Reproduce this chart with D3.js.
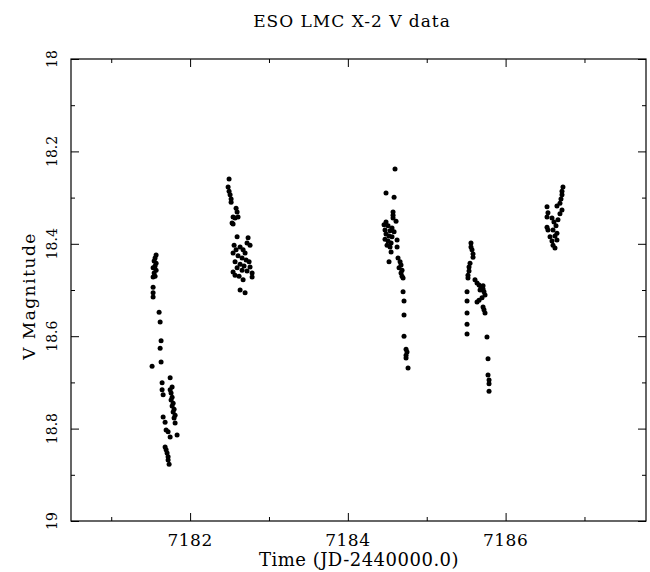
<!DOCTYPE html>
<html>
<head>
<meta charset="utf-8">
<script src="https://cdnjs.cloudflare.com/ajax/libs/d3/7.8.5/d3.min.js"></script>
<style>
body { margin: 0; background: #fff; }
text { font-family: "DejaVu Serif", serif; fill: #000; }
</style>
</head>
<body>
<svg width="650" height="572"></svg>
<script>
// [time (JD-2440000), V magnitude], one array per night
var night1 = [[7181.569,18.424],[7181.556,18.431],[7181.544,18.437],[7181.569,18.442],[7181.556,18.448],[7181.531,18.452],[7181.569,18.457],[7181.544,18.463],[7181.556,18.470],[7181.531,18.472],[7181.531,18.494],[7181.531,18.506],[7181.531,18.515],[7181.607,18.548],[7181.620,18.569],[7181.632,18.610],[7181.620,18.626],[7181.632,18.656],[7181.518,18.665],[7181.747,18.690],[7181.645,18.701],[7181.772,18.710],[7181.645,18.716],[7181.658,18.727],[7181.747,18.716],[7181.759,18.723],[7181.772,18.732],[7181.759,18.738],[7181.785,18.745],[7181.772,18.751],[7181.797,18.758],[7181.785,18.764],[7181.810,18.771],[7181.797,18.777],[7181.658,18.775],[7181.683,18.786],[7181.810,18.788],[7181.696,18.803],[7181.721,18.807],[7181.747,18.818],[7181.835,18.814],[7181.683,18.840],[7181.696,18.846],[7181.708,18.853],[7181.721,18.861],[7181.721,18.868],[7181.734,18.877]];
var night2 = [[7182.494,18.260],[7182.482,18.277],[7182.494,18.286],[7182.507,18.294],[7182.520,18.303],[7182.520,18.310],[7182.583,18.323],[7182.596,18.331],[7182.545,18.342],[7182.570,18.344],[7182.608,18.342],[7182.532,18.355],[7182.545,18.357],[7182.596,18.385],[7182.735,18.387],[7182.722,18.398],[7182.760,18.403],[7182.558,18.403],[7182.583,18.413],[7182.545,18.420],[7182.634,18.407],[7182.672,18.413],[7182.697,18.420],[7182.608,18.426],[7182.659,18.431],[7182.710,18.435],[7182.748,18.439],[7182.570,18.439],[7182.634,18.444],[7182.684,18.448],[7182.760,18.450],[7182.596,18.452],[7182.659,18.457],[7182.722,18.459],[7182.545,18.461],[7182.570,18.468],[7182.786,18.463],[7182.786,18.472],[7182.621,18.470],[7182.672,18.478],[7182.634,18.500],[7182.697,18.506]];
var night3 = [[7184.598,18.238],[7184.484,18.290],[7184.586,18.299],[7184.573,18.331],[7184.573,18.338],[7184.573,18.344],[7184.484,18.353],[7184.611,18.351],[7184.459,18.359],[7184.510,18.361],[7184.560,18.366],[7184.471,18.370],[7184.535,18.372],[7184.586,18.374],[7184.484,18.379],[7184.522,18.383],[7184.560,18.385],[7184.471,18.390],[7184.510,18.394],[7184.548,18.398],[7184.497,18.403],[7184.535,18.407],[7184.624,18.392],[7184.624,18.407],[7184.548,18.418],[7184.522,18.439],[7184.636,18.431],[7184.662,18.439],[7184.674,18.446],[7184.649,18.452],[7184.687,18.457],[7184.674,18.463],[7184.687,18.470],[7184.700,18.474],[7184.700,18.504],[7184.712,18.524],[7184.712,18.554],[7184.712,18.600],[7184.738,18.628],[7184.750,18.634],[7184.738,18.641],[7184.738,18.647],[7184.763,18.669]];
var night4 = [[7185.561,18.398],[7185.561,18.407],[7185.574,18.413],[7185.587,18.422],[7185.587,18.429],[7185.549,18.442],[7185.536,18.450],[7185.536,18.459],[7185.523,18.468],[7185.523,18.474],[7185.612,18.478],[7185.638,18.485],[7185.663,18.489],[7185.688,18.494],[7185.714,18.498],[7185.726,18.504],[7185.739,18.511],[7185.701,18.517],[7185.663,18.522],[7185.638,18.526],[7185.714,18.491],[7185.676,18.500],[7185.511,18.504],[7185.511,18.524],[7185.714,18.537],[7185.726,18.543],[7185.739,18.550],[7185.511,18.550],[7185.511,18.574],[7185.511,18.595],[7185.764,18.602],[7185.777,18.649],[7185.777,18.684],[7185.790,18.695],[7185.790,18.703],[7185.790,18.719]];
var night5 = [[7186.727,18.277],[7186.715,18.286],[7186.715,18.294],[7186.702,18.303],[7186.689,18.312],[7186.651,18.318],[7186.715,18.327],[7186.689,18.335],[7186.664,18.348],[7186.525,18.320],[7186.537,18.333],[7186.525,18.342],[7186.588,18.344],[7186.613,18.353],[7186.639,18.361],[7186.601,18.370],[7186.651,18.377],[7186.626,18.383],[7186.651,18.392],[7186.525,18.364],[7186.537,18.370],[7186.563,18.385],[7186.588,18.394],[7186.601,18.403],[7186.626,18.409]];

var xMajor = [7182, 7184, 7186];
var xMinor = [7181, 7183, 7185, 7187];
var yMajor = [18, 18.2, 18.4, 18.6, 18.8, 19];
var yMinor = [18.1, 18.3, 18.5, 18.7, 18.9];
var yLabels = ["18", "18.2", "18.4", "18.6", "18.8", "19"];

var svg = d3.select('svg');
var frameL = 71, frameR = 646, frameT = 59, frameB = 521;

var x = d3.scaleLinear().domain([7180.49, 7187.78]).range([frameL, frameR]);
var y = d3.scaleLinear().domain([18, 19]).range([frameT, frameB]);

function tickAxis(axis, ticks, size, tr) {
	var g = svg.append('g')
		.attr('transform', tr)
		.call(axis.tickValues(ticks).tickSize(size).tickFormat(''));
	g.select('.domain').remove();
	g.selectAll('line').attr('stroke', '#000').attr('stroke-width', 1);
	return g;
}

// ticks point inward on all four sides
tickAxis(d3.axisBottom(x), xMajor, -8, 'translate(0,' + frameB + ')');
tickAxis(d3.axisBottom(x), xMinor, -4, 'translate(0,' + frameB + ')');
tickAxis(d3.axisTop(x), xMajor, -8, 'translate(0,' + frameT + ')');
tickAxis(d3.axisTop(x), xMinor, -4, 'translate(0,' + frameT + ')');
tickAxis(d3.axisLeft(y), yMajor, -8, 'translate(' + frameL + ',0)');
tickAxis(d3.axisLeft(y), yMinor, -4, 'translate(' + frameL + ',0)');
tickAxis(d3.axisRight(y), yMajor, -8, 'translate(' + frameR + ',0)');
tickAxis(d3.axisRight(y), yMinor, -4, 'translate(' + frameR + ',0)');

svg.append('rect')
	.attr('x', frameL).attr('y', frameT)
	.attr('width', frameR - frameL).attr('height', frameB - frameT)
	.attr('fill', 'none').attr('stroke', '#000').attr('stroke-width', 1.2);

svg.selectAll('.xlab').data(xMajor).enter().append('text')
	.attr('x', d => x(d)).attr('y', frameB + 25)
	.attr('text-anchor', 'middle')
	.style('font-size', '17px')
	.style('letter-spacing', '0.5px')
	.text(d => d);

svg.selectAll('.ylab').data(yMajor).enter().append('text')
	.attr('transform', d => 'translate(57,' + y(d) + ') rotate(-90)')
	.attr('text-anchor', 'middle')
	.style('font-size', '14px')
	.text((d, i) => yLabels[i]);

svg.append('text')
	.attr('x', 352).attr('y', 27)
	.attr('text-anchor', 'middle')
	.style('font-size', '17px')
	.style('letter-spacing', '1px')
	.text('ESO LMC X-2 V data');

svg.append('text')
	.attr('x', 359).attr('y', 566)
	.attr('text-anchor', 'middle')
	.style('font-size', '18px')
	.style('letter-spacing', '0.5px')
	.text('Time (JD-2440000.0)');

svg.append('text')
	.attr('transform', 'translate(35,296) rotate(-90)')
	.attr('text-anchor', 'middle')
	.style('font-size', '17px')
	.style('letter-spacing', '1.5px')
	.text('V Magnitude');

var points = [].concat(night1, night2, night3, night4, night5);

svg.append('g').selectAll('circle').data(points).enter().append('circle')
	.attr('cx', d => x(d[0]))
	.attr('cy', d => y(d[1]))
	.attr('r', 2.5)
	.attr('fill', '#000');
</script>
</body>
</html>
